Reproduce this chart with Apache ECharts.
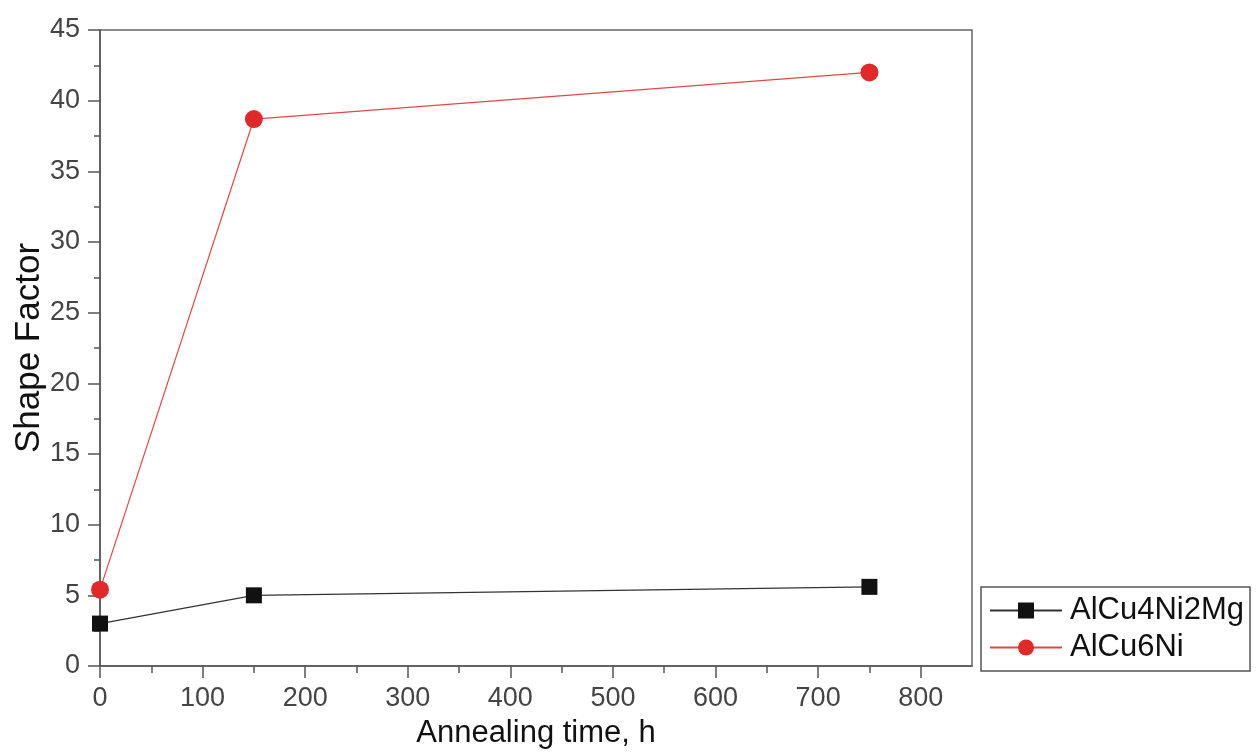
<!DOCTYPE html>
<html>
<head>
<meta charset="utf-8">
<script src="https://cdn.jsdelivr.net/npm/echarts@6/dist/echarts.min.js"></script>
<style>html,body{margin:0;padding:0;background:#fff;}#c{width:1258px;height:753px;}</style>
</head>
<body>
<div id="c"></div>
<script>
const seriesNames = ['AlCu4Ni2Mg', 'AlCu6Ni'];
const timeH = [0, 150, 750];
const alCu4Ni2Mg = [3.0, 5.0, 5.6];
const alCu6Ni = [5.4, 38.7, 42.0];
const xTicks = [0, 100, 200, 300, 400, 500, 600, 700, 800];
const yTicks = [0, 5, 10, 15, 20, 25, 30, 35, 40, 45];

const font = 'Liberation Sans, Arial, sans-serif';
const axisCol = '#555';
const chart = echarts.init(document.getElementById('c'));
chart.setOption({
  animation: false,
  backgroundColor: '#fff',
  grid: { left: 100, right: 286, top: 30, bottom: 87, outerBoundsMode: 'none', containLabel: false, show: true, borderColor: '#666', borderWidth: 1.5, backgroundColor: 'transparent' },
  legend: {
    orient: 'vertical', left: 981, top: 587, width: 272,
    padding: [8, 6, 8, 8],
    borderColor: '#555', borderWidth: 1.5,
    itemWidth: 72, itemHeight: 20, itemGap: 6,
    textStyle: { fontFamily: font, fontSize: 31, color: '#111', padding: [0, 0, 0, 3] },
    data: seriesNames
  },
  xAxis: {
    type: 'value', min: 0, max: 850, interval: 100,
    name: 'Annealing time, h', nameLocation: 'middle', nameGap: 52,
    nameTextStyle: { fontFamily: font, fontSize: 31, color: '#111' },
    axisLine: { show: true, onZero: false, lineStyle: { color: axisCol, width: 1.5 } },
    axisTick: { show: true, inside: false, length: 12, customValues: xTicks, lineStyle: { color: axisCol, width: 1.5 } },
    minorTick: { show: true, splitNumber: 2, length: 7, lineStyle: { color: axisCol, width: 1.5 } },
    axisLabel: { customValues: xTicks, margin: 19, fontFamily: font, fontSize: 27, color: '#444' },
    splitLine: { show: false }
  },
  yAxis: {
    type: 'value', min: 0, max: 45, interval: 5,
    name: 'Shape Factor', nameLocation: 'middle', nameGap: 53, nameRotate: 90, nameMoveOverlap: false,
    nameTextStyle: { fontFamily: font, fontSize: 35, color: '#111' },
    axisLine: { show: true, onZero: false, lineStyle: { color: axisCol, width: 1.5 } },
    axisTick: { show: true, inside: false, length: 12, customValues: yTicks, lineStyle: { color: axisCol, width: 1.5 } },
    minorTick: { show: true, splitNumber: 2, length: 6, lineStyle: { color: axisCol, width: 1.5 } },
    axisLabel: { customValues: yTicks, margin: 20, fontFamily: font, fontSize: 27, color: '#444' },
    splitLine: { show: false }
  },
  series: [
    {
      name: seriesNames[0], type: 'line',
      data: timeH.map((t, i) => [t, alCu4Ni2Mg[i]]),
      symbol: 'rect', symbolSize: 16,
      itemStyle: { color: '#111' },
      lineStyle: { color: '#333', width: 1.2 }
    },
    {
      name: seriesNames[1], type: 'line',
      data: timeH.map((t, i) => [t, alCu6Ni[i]]),
      symbol: 'circle', symbolSize: 18,
      itemStyle: { color: '#e02a2a' },
      lineStyle: { color: '#e04848', width: 1.2 }
    }
  ]
});
</script>
</body>
</html>
